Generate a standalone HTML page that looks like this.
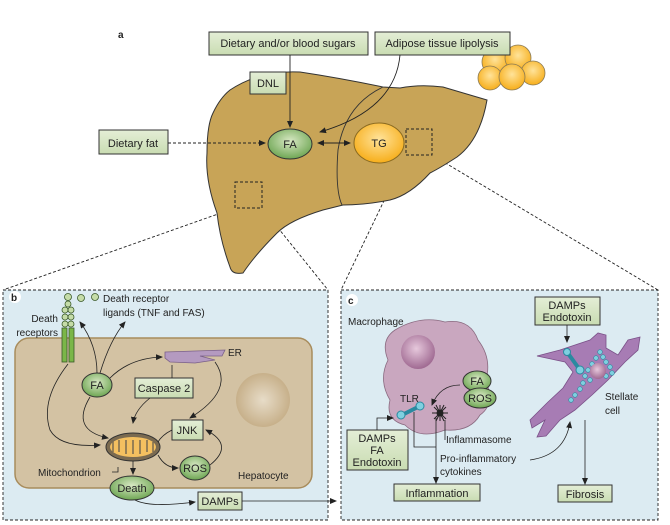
<!DOCTYPE html>
<html><head><meta charset="utf-8"><style>
body{margin:0;background:#fff}
svg{display:block;font-family:"Liberation Sans",sans-serif}
</style></head><body>
<svg width="670" height="525" viewBox="0 0 670 525" xmlns="http://www.w3.org/2000/svg">
<defs>
<linearGradient id="gb" x1="0" y1="0" x2="0" y2="1"><stop offset="0" stop-color="#e4eed6"/><stop offset="1" stop-color="#c9dcb2"/></linearGradient>
<radialGradient id="ge" cx="0.5" cy="0.4" r="0.6"><stop offset="0" stop-color="#d8e8c4"/><stop offset="1" stop-color="#6ea653"/></radialGradient>
<radialGradient id="gy" cx="0.5" cy="0.4" r="0.6"><stop offset="0" stop-color="#ffe39a"/><stop offset="1" stop-color="#f7ae1a"/></radialGradient>
<radialGradient id="gn" cx="0.5" cy="0.5" r="0.5"><stop offset="0" stop-color="#e7dcc8"/><stop offset="1" stop-color="#c7b08a"/></radialGradient>
<radialGradient id="gm" cx="0.45" cy="0.4" r="0.6"><stop offset="0" stop-color="#e6c8dc"/><stop offset="1" stop-color="#a06a92"/></radialGradient>
<marker id="a" markerWidth="8" markerHeight="8" refX="6" refY="3" orient="auto" markerUnits="userSpaceOnUse"><path d="M0,0 L7,3 L0,6 z" fill="#222"/></marker>
<marker id="s" markerWidth="8" markerHeight="8" refX="1" refY="3" orient="auto" markerUnits="userSpaceOnUse"><path d="M7,0 L0,3 L7,6 z" fill="#222"/></marker>
</defs>
<g fill="none" stroke="#222" stroke-width="0.9">
<rect x="3" y="290" width="325" height="230" fill="#dcebf2" stroke-dasharray="3,2"/>
<rect x="341" y="290" width="317" height="230" fill="#dcebf2" stroke-dasharray="3,2"/>
<path d="M235,208 L3,290 M262,208 L328,290 M406,155 L341,290 M432,155 L658,290" stroke-dasharray="3,2"/>
</g>
<path d="M230,90 Q260,70 300,72 Q340,78 383,87 L400,88 Q420,84 443,87 L487,100 Q480,140 457,157 Q440,168 430,173 Q410,195 390,200 Q365,205 343,205 L323,210 Q290,220 277,233 Q255,255 243,273 Q232,275 230,267 Q220,240 217,213 Q205,180 207,153 Q207,125 213,113 Q220,98 230,90 Z" fill="#c8a457" stroke="#333" stroke-width="1"/>
<path d="M383,87 Q345,105 338,150 Q335,190 342,205" fill="none" stroke="#333" stroke-width="0.9"/>
<rect x="235" y="182" width="27" height="26" fill="none" stroke="#222" stroke-dasharray="3,2"/>
<rect x="406" y="129" width="26" height="26" fill="none" stroke="#222" stroke-dasharray="3,2"/>
<g stroke="#8a7a55" stroke-width="0.8" fill="url(#gy)">
<circle cx="495" cy="62" r="13"/><circle cx="518" cy="58" r="13"/><circle cx="533" cy="73" r="12"/>
<circle cx="490" cy="78" r="12"/><circle cx="512" cy="77" r="13"/>
</g>
<text x="118" y="38" font-size="10" font-weight="bold" fill="#222">a</text>
<g font-size="11" fill="#222" text-anchor="middle">
<rect x="209" y="32" width="159" height="23" fill="url(#gb)" stroke="#333"/><text x="288" y="47">Dietary and/or blood sugars</text>
<rect x="375" y="32" width="135" height="23" fill="url(#gb)" stroke="#333"/><text x="442" y="47">Adipose tissue lipolysis</text>
<rect x="250" y="72" width="36" height="22" fill="url(#gb)" stroke="#333"/><text x="268" y="87">DNL</text>
<rect x="99" y="130" width="69" height="24" fill="url(#gb)" stroke="#333"/><text x="133" y="147">Dietary fat</text>
<ellipse cx="290" cy="144" rx="22" ry="15" fill="url(#ge)" stroke="#333"/><text x="290" y="148">FA</text>
<ellipse cx="379" cy="143" rx="25" ry="20" fill="url(#gy)" stroke="#8a6a20"/><text x="379" y="147">TG</text>
</g>
<g fill="none" stroke="#222" stroke-width="0.9">
<path d="M290,55 L290,127" marker-end="url(#a)"/>
<path d="M168,143 L265,143" stroke-dasharray="3,2" marker-end="url(#a)"/>
<path d="M400,55 Q395,110 320,132" marker-end="url(#a)"/>
<path d="M318,143 L350,143" marker-start="url(#s)" marker-end="url(#a)"/>
</g>
<rect x="15" y="338" width="297" height="150" rx="14" fill="#d3c2a3" stroke="#a88c5c" stroke-width="1.5"/>
<circle cx="263" cy="400" r="27" fill="url(#gn)"/>
<circle cx="15" cy="297" r="6" fill="#fff"/><text x="11" y="301" font-size="10" font-weight="bold" fill="#222">b</text>
<g fill="#c5dca8" stroke="#3a5a28" stroke-width="0.8">
<circle cx="68" cy="297" r="3.5"/><circle cx="81" cy="298" r="3.5"/><circle cx="95" cy="297" r="3.5"/>
<rect x="62" y="328" width="5" height="34" fill="#7ab648"/><rect x="69" y="328" width="5" height="34" fill="#7ab648"/>
<circle cx="65" cy="310" r="3"/><circle cx="71" cy="310" r="3"/><circle cx="65" cy="317" r="3"/><circle cx="71" cy="317" r="3"/><circle cx="65" cy="324" r="3"/><circle cx="71" cy="324" r="3"/><circle cx="68" cy="304" r="3"/>
</g>
<path d="M165,352 L225,350 L222,356 L200,356 L215,360 L195,363 L170,362 L165,358 Z" fill="#b49ac0" stroke="#7a6088" stroke-width="0.8"/>
<ellipse cx="133" cy="447" rx="27" ry="14" fill="#7a6a50" stroke="#333"/>
<ellipse cx="133" cy="447" rx="23" ry="10" fill="#f4c060"/>
<path d="M113,452 L113,441 M119,452 L119,440 M126,454 L126,440 M133,454 L133,440 M140,454 L140,440 M147,452 L147,440 M153,452 L153,442" stroke="#7a6a50" stroke-width="1.5"/>
<g font-size="11" fill="#222" text-anchor="middle">
<ellipse cx="97" cy="385" rx="15" ry="12" fill="url(#ge)" stroke="#333"/><text x="97" y="389">FA</text>
<rect x="135" y="378" width="58" height="20" fill="url(#gb)" stroke="#333"/><text x="164" y="392">Caspase 2</text>
<rect x="172" y="420" width="31" height="20" fill="url(#gb)" stroke="#333"/><text x="187" y="434">JNK</text>
<ellipse cx="195" cy="468" rx="15" ry="12" fill="url(#ge)" stroke="#333"/><text x="195" y="472">ROS</text>
<ellipse cx="132" cy="488" rx="22" ry="12" fill="url(#ge)" stroke="#333"/><text x="132" y="492">Death</text>
<rect x="198" y="492" width="44" height="18" fill="url(#gb)" stroke="#333"/><text x="220" y="505">DAMPs</text>
</g>
<g font-size="10" fill="#222">
<text x="103" y="302">Death receptor</text><text x="103" y="316">ligands (TNF and FAS)</text>
<text x="58" y="322" text-anchor="end">Death</text><text x="58" y="336" text-anchor="end">receptors</text>
<text x="228" y="356">ER</text>
<text x="38" y="476">Mitochondrion</text>
<text x="238" y="479">Hepatocyte</text>
</g>
<g fill="none" stroke="#222" stroke-width="0.8">
<path d="M97,373 Q97,345 80,322" marker-end="url(#a)"/>
<path d="M100,373 Q110,340 125,322" marker-end="url(#a)"/>
<path d="M110,378 Q130,358 162,357" marker-end="url(#a)"/>
<path d="M90,397 Q70,430 108,438" marker-end="url(#a)"/>
<path d="M68,364 Q40,400 50,430 Q60,448 100,445" marker-end="url(#a)"/>
<path d="M172,365 L172,378"/>
<path d="M150,398 Q135,410 133,423" marker-end="url(#a)"/>
<path d="M215,362 Q235,390 190,418" marker-end="url(#a)"/>
<path d="M172,430 Q162,435 158,442"/>
<path d="M158,455 Q165,468 178,468" marker-end="url(#a)"/>
<path d="M210,465 Q235,445 206,430" marker-end="url(#a)"/>
<path d="M133,461 L133,474" marker-end="url(#a)"/>
<path d="M118,467 L118,472 L112,472"/>
<path d="M135,500 Q150,508 195,502" marker-end="url(#a)"/>
<path d="M242,501 L336,501" marker-end="url(#a)"/>
</g>
<circle cx="352" cy="300" r="6" fill="#fff"/><text x="348" y="304" font-size="10" font-weight="bold" fill="#222">c</text>
<path d="M395,330 Q420,315 445,322 Q470,318 478,340 Q492,358 486,380 Q495,405 480,415 Q470,432 445,430 Q420,440 405,425 Q385,420 390,400 Q378,380 388,360 Q380,340 395,330 Z" fill="#c9a7bf" stroke="#8a6a80" stroke-width="0.8"/>
<circle cx="418" cy="352" r="17" fill="url(#gm)"/>
<path d="M537,356 L560,350 L578,344 L590,340 L598,333 L606,335 L606,348 L618,355 L628,340 L640,337 L638,350 L625,362 L608,380 L592,395 L575,410 L560,420 L546,436 L537,437 L545,420 L532,428 L530,420 L548,402 L563,388 L573,372 L565,362 Z" fill="#a77cb4" stroke="#7a5088" stroke-width="0.8"/>
<g fill="#7fd0e0" stroke="#2a8aa0" stroke-width="0.6">
<circle cx="600" cy="352" r="2.3"/><circle cx="603" cy="357" r="2.3"/><circle cx="606" cy="362" r="2.3"/><circle cx="610" cy="367" r="2.3"/><circle cx="612" cy="373" r="2.3"/><circle cx="606" cy="376" r="2.3"/>
<circle cx="596" cy="358" r="2.3"/><circle cx="592" cy="364" r="2.3"/><circle cx="588" cy="370" r="2.3"/><circle cx="585" cy="376" r="2.3"/><circle cx="590" cy="380" r="2.3"/><circle cx="583" cy="383" r="2.3"/><circle cx="580" cy="389" r="2.3"/><circle cx="575" cy="395" r="2.3"/><circle cx="571" cy="400" r="2.3"/>
</g>
<circle cx="598" cy="371" r="8" fill="url(#gm)"/>
<path d="M567,352 L580,370" stroke="#2a8aa0" stroke-width="4"/>
<circle cx="567" cy="352" r="3.5" fill="#7fd0e0" stroke="#2a8aa0"/><circle cx="580" cy="370" r="4" fill="#7fd0e0" stroke="#2a8aa0"/>
<path d="M402,415 L418,407" stroke="#2a8aa0" stroke-width="4"/>
<circle cx="401" cy="415" r="4" fill="#7fd0e0" stroke="#2a8aa0"/><circle cx="420" cy="406" r="4" fill="#7fd0e0" stroke="#2a8aa0"/>
<g stroke="#222" stroke-width="1"><path d="M432,413 L448,413 M440,405 L440,421 M434,407 L446,419 M446,407 L434,419 M436,405 L444,421 M444,405 L436,421"/></g>
<circle cx="440" cy="413" r="3.5" fill="#222"/>
<g font-size="11" fill="#222" text-anchor="middle">
<ellipse cx="477" cy="381" rx="14" ry="10" fill="url(#ge)" stroke="#333"/><text x="477" y="385">FA</text>
<ellipse cx="480" cy="398" rx="16" ry="10" fill="url(#ge)" stroke="#333"/><text x="480" y="402">ROS</text>
<rect x="347" y="430" width="61" height="40" fill="url(#gb)" stroke="#333"/><text x="377" y="442">DAMPs</text><text x="377" y="454">FA</text><text x="377" y="466">Endotoxin</text>
<rect x="394" y="484" width="86" height="17" fill="url(#gb)" stroke="#333"/><text x="437" y="497">Inflammation</text>
<rect x="535" y="297" width="65" height="28" fill="url(#gb)" stroke="#333"/><text x="567" y="309">DAMPs</text><text x="567" y="321">Endotoxin</text>
<rect x="558" y="485" width="54" height="17" fill="url(#gb)" stroke="#333"/><text x="585" y="498">Fibrosis</text>
</g>
<g font-size="10" fill="#222">
<text x="348" y="325">Macrophage</text>
<text x="400" y="402">TLR</text>
<text x="446" y="443">Inflammasome</text>
<text x="440" y="462">Pro-inflammatory</text><text x="440" y="475">cytokines</text>
<text x="605" y="400">Stellate</text><text x="605" y="414">cell</text>
</g>
<g fill="none" stroke="#222" stroke-width="0.8">
<path d="M377,430 L377,418 L393,418" marker-end="url(#a)"/>
<path d="M460,385 Q440,385 432,405" marker-end="url(#a)"/>
<path d="M414,412 L414,447 L436,447"/>
<path d="M436,418 L436,483" marker-end="url(#a)"/>
<path d="M445,420 L445,440"/>
<path d="M530,460 Q565,455 570,422" marker-end="url(#a)"/>
<path d="M567,325 L567,342" marker-end="url(#a)"/>
<path d="M585,420 L585,484" marker-end="url(#a)"/>
</g>
</svg>
</body></html>
